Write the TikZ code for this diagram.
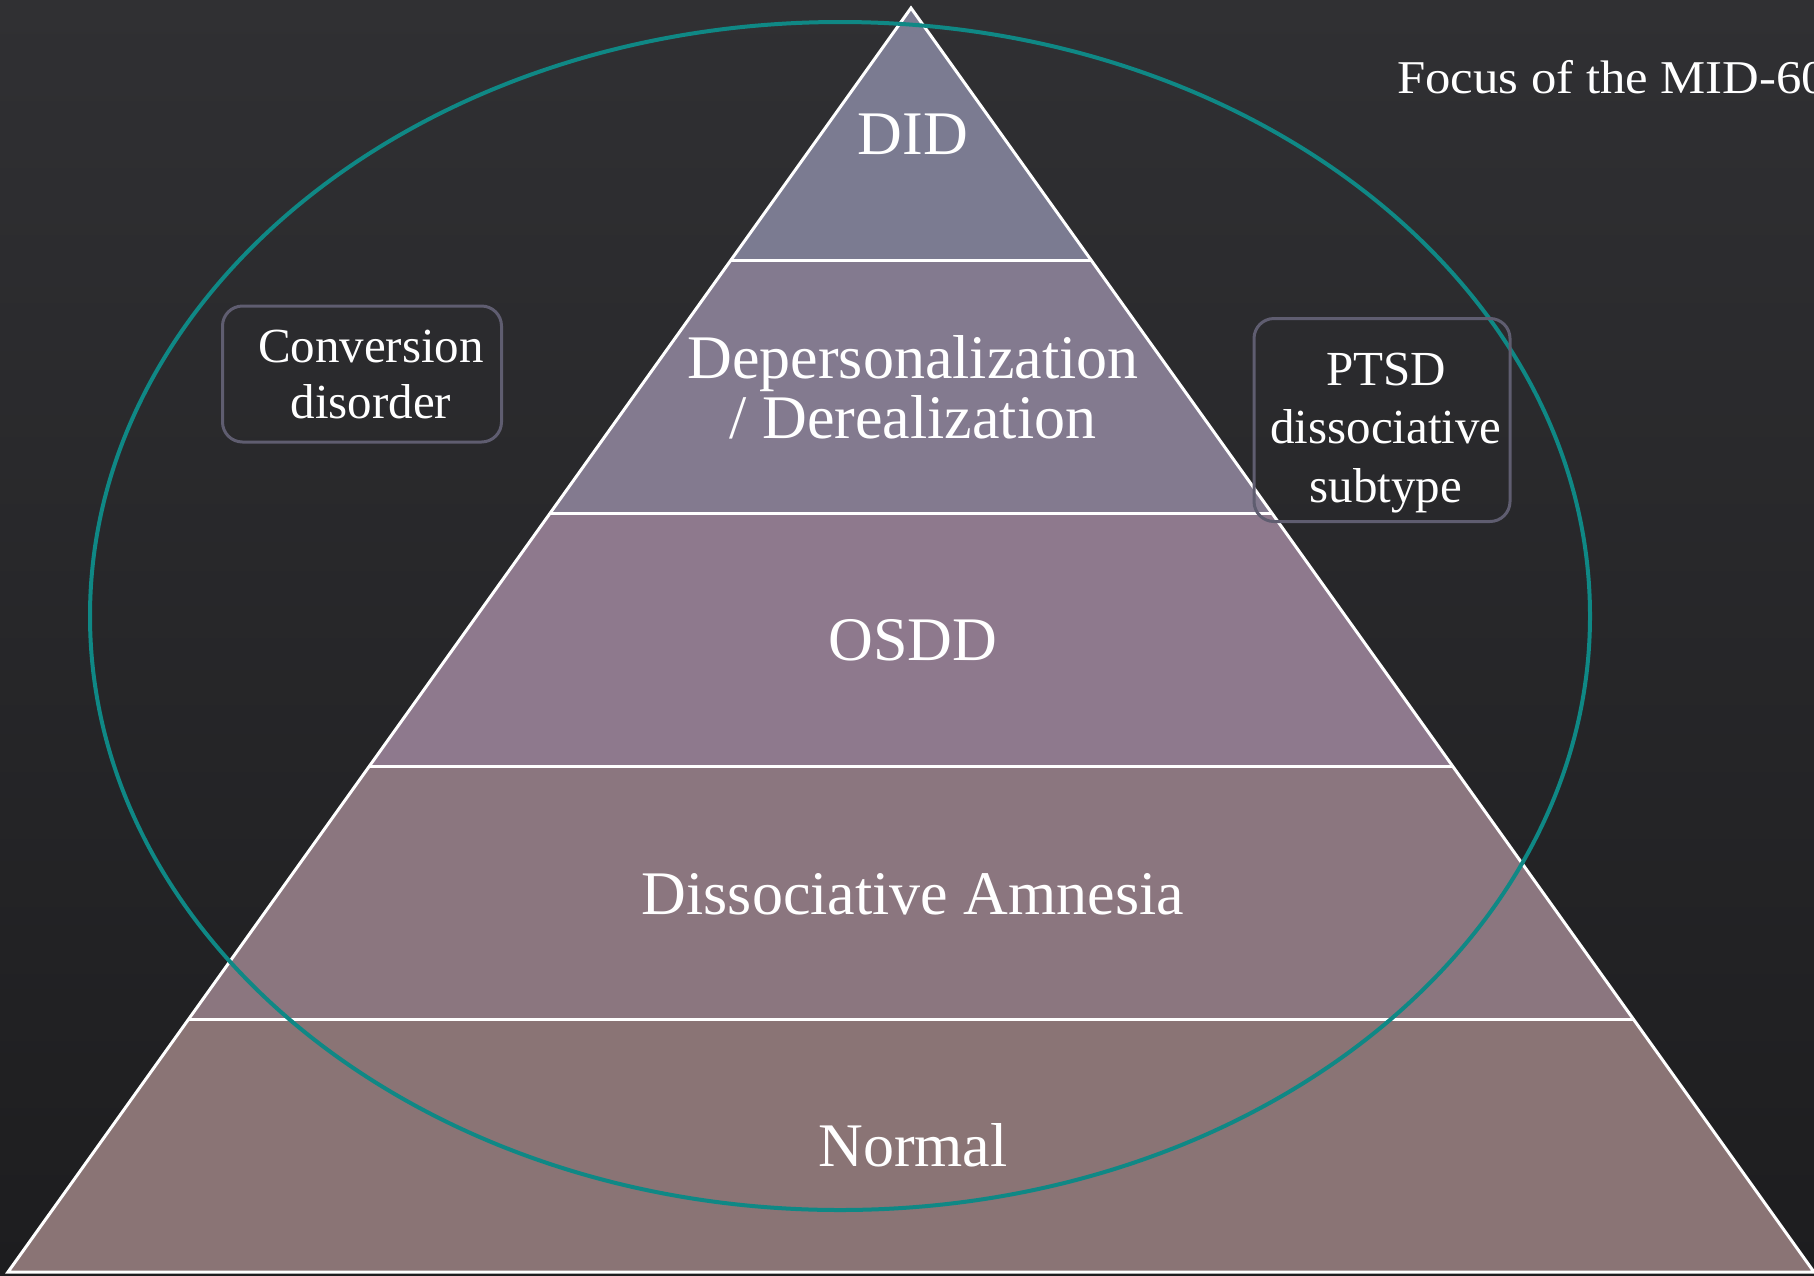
\documentclass[tikz,border=0pt]{standalone}
\usepackage{fontspec}
\setmainfont{Liberation Serif}
\newfontfamily\wideserif[FakeStretch=1.08]{Liberation Serif}
\usetikzlibrary{calc}
\definecolor{bgtop}{RGB}{48,48,51}
\definecolor{bgbot}{RGB}{29,29,31}
\definecolor{cDID}{RGB}{123,123,145}
\definecolor{cDep}{RGB}{131,122,143}
\definecolor{cOSDD}{RGB}{142,121,141}
\definecolor{cAmn}{RGB}{139,118,127}
\definecolor{cNorm}{RGB}{138,116,117}
\definecolor{ringteal}{RGB}{15,136,133}
\definecolor{boxline}{RGB}{95,93,112}
\tikzset{
  bigtxt/.style={text=white, inner sep=0pt, anchor=base, font=\fontsize{62}{62}\selectfont},
  smalltxt/.style={text=white, inner sep=0pt, anchor=base, font=\fontsize{49}{49}\selectfont},
  sidebox/.style={draw=boxline, line width=3pt, rounded corners=20pt, inner sep=0pt},
  edge/.style={draw=white, line width=3pt},
}
\begin{document}
\begin{tikzpicture}[x=1pt,y=-1pt]
\useasboundingbox (0,0) rectangle (1814,1275);
\clip (0,0) rectangle (1814,1275);
\shade[top color=bgtop,bottom color=bgbot] (0,0) rectangle (1814,1275);

% pyramid corners
\coordinate (A) at (911,8);
\coordinate (BL) at (8,1272);
\coordinate (BR) at (1814,1272);
\foreach \k in {1,2,3,4}{
  \coordinate (L\k) at ($(A)!\k/5!(BL)$);
  \coordinate (R\k) at ($(A)!\k/5!(BR)$);
}
\fill[cDID]  (A) -- (L1) -- (R1) -- cycle;
\fill[cDep]  (L1) -- (L2) -- (R2) -- (R1) -- cycle;
\fill[cOSDD] (L2) -- (L3) -- (R3) -- (R2) -- cycle;
\fill[cAmn]  (L3) -- (L4) -- (R4) -- (R3) -- cycle;
\fill[cNorm] (L4) -- (BL) -- (BR) -- (R4) -- cycle;
\draw[edge] (L1) -- (R1) (L2) -- (R2) (L3) -- (R3) (L4) -- (R4);
\draw[edge] (A) -- (BL) -- (BR) -- cycle;

% ellipse
\draw[ringteal, line width=4pt] (840,616) ellipse [x radius=750pt, y radius=594pt];

% band labels
\node[bigtxt] (did) at (913,154) {DID};
\node[bigtxt] (dep1) at (913,378) {Depersonalization};
\node[bigtxt] (dep2) at (913,438) {/ Derealization};
\node[bigtxt] (osdd) at (913,660) {OSDD};
\node[bigtxt] (amn) at (913,914) {Dissociative Amnesia};
\node[bigtxt] (norm) at (913,1166) {Normal};

% side boxes
\node[sidebox, minimum width=279pt, minimum height=136pt] (convbox) at (362,374) {};
\node[smalltxt] (conv1) at (371,362) {Conversion};
\node[smalltxt] (conv2) at (371,418) {disorder};

\node[sidebox, minimum width=256pt, minimum height=203pt] (ptsdbox) at (1382,420) {};
\node[smalltxt] (ptsd1) at (1386,385) {PTSD};
\node[smalltxt] (ptsd2) at (1386,443) {dissociative};
\node[smalltxt] (ptsd3) at (1386,502) {subtype};

% focus note
\node[text=white, inner sep=0pt, anchor=base west, font=\wideserif\fontsize{47}{47}\selectfont] (focus) at (1397,93) {Focus of the MID-60};
\end{tikzpicture}
\end{document}
